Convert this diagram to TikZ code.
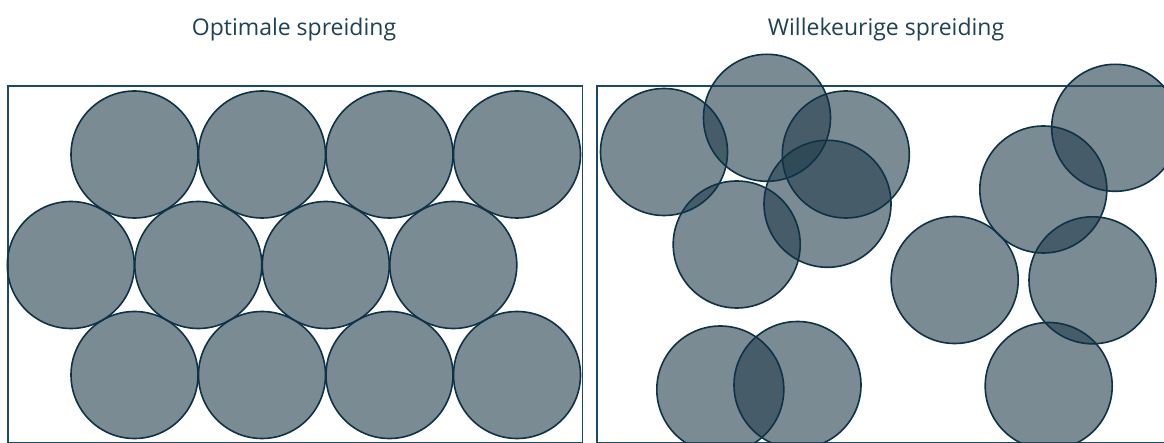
\documentclass[tikz,border=0pt]{standalone}
\usepackage{fontspec}
\setmainfont{Open Sans}
\definecolor{titlecol}{RGB}{30,67,86}
\definecolor{boxcol}{RGB}{26,74,102}
\definecolor{circfill}{RGB}{36,62,76}
\definecolor{circline}{RGB}{14,50,70}
\tikzset{
  title/.style={font=\fontsize{23}{27}\selectfont, text=titlecol, inner sep=0pt, anchor=base},
  frame/.style={draw=boxcol, line width=1.4pt},
  discfill/.style={fill=circfill, fill opacity=0.6},
  discline/.style={draw=circline, line width=1.6pt},
}
\newcommand{\discR}{63.5pt}
\begin{document}
\begin{tikzpicture}[x=1pt,y=-1pt]
\useasboundingbox (0,0) rectangle (1164,443);
\clip (0,0) rectangle (1164,443);
\fill[white] (0,0) rectangle (1164,443);
% titles
\node[title] (t1) at (294,36) {Optimale spreiding};
\node[title] (t2) at (886,36) {Willekeurige spreiding};
% frames
\draw[frame] (8,86) rectangle (582.5,442.5);
\draw[frame] (597,86) rectangle (1175,442.5);
% left: hexagonal packing
\foreach \p in {(134.5,154.5),(262,154.5),(389.5,154.5),(517,154.5),
                (70.8,265),(198.3,265),(325.8,265),(453.3,265),
                (134.5,375),(262,375),(389.5,375),(517,375)}
  \fill[discfill] \p circle[radius=\discR];
\foreach \p in {(134.5,154.5),(262,154.5),(389.5,154.5),(517,154.5),
                (70.8,265),(198.3,265),(325.8,265),(453.3,265),
                (134.5,375),(262,375),(389.5,375),(517,375)}
  \draw[discline] \p circle[radius=\discR];
% right: random placement
\foreach \p in {(664,152),(767,117.8),(845.8,154.5),(827.5,203.8),(736.7,244.5),
                (954.7,280),(1043.3,189.5),(1115.2,127.8),(1092.5,280.3),
                (1048.7,386),(720.3,389.5),(797.5,385)}
  \fill[discfill] \p circle[radius=\discR];
\foreach \p in {(664,152),(767,117.8),(845.8,154.5),(827.5,203.8),(736.7,244.5),
                (954.7,280),(1043.3,189.5),(1115.2,127.8),(1092.5,280.3),
                (1048.7,386),(720.3,389.5),(797.5,385)}
  \draw[discline] \p circle[radius=\discR];
\end{tikzpicture}
\end{document}
